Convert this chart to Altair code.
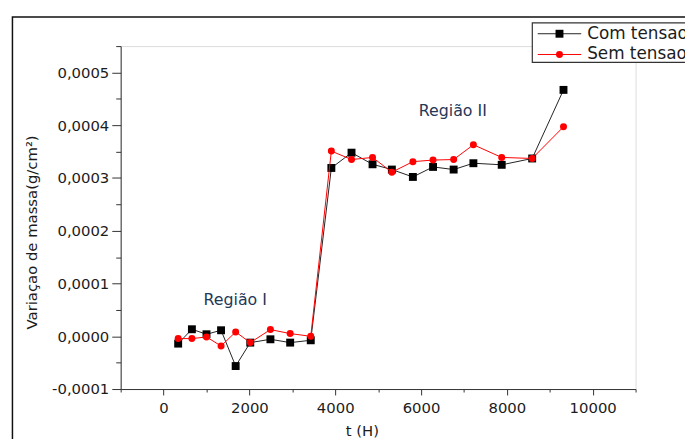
import altair as alt
import pandas as pd

# ---- data ----
t_hours = [340, 660, 1000, 1340, 1680, 2020, 2490, 2950, 3430,
           3910, 4380, 4870, 5320, 5810, 6280, 6760, 7220, 7880, 8590, 9320]
com_tensao = [-0.0000139, 0.0000133, 0.0000038, 0.0000114, -0.0000564, -0.0000120,
              -0.0000057, -0.0000120, -0.0000076,
              0.000319, 0.000348, 0.000326, 0.000316, 0.000302, 0.000321,
              0.000316, 0.000328, 0.000325, 0.000337, 0.000467]
sem_tensao = [-0.0000044, -0.0000044, -0.0000013, -0.0000184, 0.0000082, -0.0000120,
              0.0000127, 0.0000051, 0.0000000,
              0.000351, 0.000335, 0.000339, 0.000311, 0.000331, 0.000334,
              0.000335, 0.000363, 0.000339, 0.000337, 0.000397]
series_names = ["Com tensao", "Sem tensao"]
region_labels = ["Região I", "Região II"]
region_t = [1670, 6740]
region_v = [0.000068, 0.000426]

x_major = [0, 2000, 4000, 6000, 8000, 10000]
x_minor = [-1000, 1000, 3000, 5000, 7000, 9000, 11000]
y_major = [-0.0001, 0.0, 0.0001, 0.0002, 0.0003, 0.0004, 0.0005]
y_minor = [-0.00005, 0.00005, 0.00015, 0.00025, 0.00035, 0.00045, 0.00055]

FONT = "DejaVu Sans"
TXT = "#1c1c1c"
SQ = 64
CI = 50

df_com = pd.DataFrame({"t": t_hours, "v": com_tensao})
df_sem = pd.DataFrame({"t": t_hours, "v": sem_tensao})
df_reg = pd.DataFrame({"t": region_t, "v": region_v, "label": region_labels})
one = pd.DataFrame({"k": [0]})

xs = alt.Scale(domain=[-1000, 11000], nice=False, zero=False)
ys = alt.Scale(domain=[-0.0001, 0.00055], nice=False, zero=False)

ylab = "(datum.value < 0 ? '-' : '') + replace(format(abs(datum.value), '.4f'), '.', ',')"

x_axis_major = alt.Axis(values=x_major, format="d", orient="bottom", grid=False,
                        tickSize=6, tickColor="#333", domainColor="#333",
                        labelFont=FONT, labelFontSize=15, labelColor=TXT, labelPadding=6,
                        title="t (H)", titleFont=FONT, titleFontSize=15, titleColor=TXT,
                        titleFontWeight="normal", titleX=244, titleY=42,
                        titleBaseline="middle", titleAlign="center")
y_axis_major = alt.Axis(values=y_major, labelExpr=ylab, orient="left", grid=False,
                        tickSize=9, tickColor="#333", domainColor="#333",
                        labelFont=FONT, labelFontSize=15, labelColor=TXT, labelPadding=3,
                        title="Variaçao de massa(g/cm²)", titleFont=FONT, titleFontSize=15,
                        titleColor=TXT, titleFontWeight="normal", titleX=-90, titleY=188,
                        titleAngle=270, titleBaseline="middle", titleAlign="center")
x_axis_minor = alt.Axis(values=x_minor, orient="bottom", grid=False, labels=False,
                        domain=False, tickSize=3, tickColor="#333", title=None)
y_axis_minor = alt.Axis(values=y_minor, orient="left", grid=False, labels=False,
                        domain=False, tickSize=5, tickColor="#333", title=None)

# figure frame
frame = alt.Chart(one).mark_rect(fillOpacity=0, stroke="#111", strokeWidth=1.5).encode(
    x=alt.value(-109.5), x2=alt.value(900), y=alt.value(-29.5), y2=alt.value(600))

com_line = alt.Chart(df_com).mark_line(color="#222", strokeWidth=1).encode(
    x=alt.X("t:Q", scale=xs, axis=x_axis_major),
    y=alt.Y("v:Q", scale=ys, axis=y_axis_major))
com_pts = alt.Chart(df_com).mark_point(shape="square", filled=True, color="black",
                                       opacity=1, size=SQ).encode(
    x=alt.X("t:Q", scale=xs, axis=x_axis_minor),
    y=alt.Y("v:Q", scale=ys, axis=y_axis_minor))
sem_line = alt.Chart(df_sem).mark_line(color="#ff0000", strokeWidth=1).encode(
    x=alt.X("t:Q", scale=xs, axis=None),
    y=alt.Y("v:Q", scale=ys, axis=None))
sem_pts = alt.Chart(df_sem).mark_point(shape="circle", filled=True, color="#ff0000",
                                       opacity=1, size=CI).encode(
    x=alt.X("t:Q", scale=xs, axis=None),
    y=alt.Y("v:Q", scale=ys, axis=None))

regions = alt.Chart(df_reg).mark_text(font=FONT, fontSize=16, color="#253858").encode(
    x=alt.X("t:Q", scale=xs, axis=None),
    y=alt.Y("v:Q", scale=ys, axis=None),
    text="label:N")

# legend (drawn with marks)
leg_df = pd.DataFrame({"name": series_names})
leg_box = alt.Chart(one).mark_rect(fill="white", stroke="#333", strokeWidth=1.2).encode(
    x=alt.value(416.5), x2=alt.value(700), y=alt.value(-23.5), y2=alt.value(16.5))
leg_layers = [leg_box]
leg_specs = [("#222", "square", SQ, -12.5), ("#ff0000", "circle", CI, 8.5)]
for i, (col, shp, sz, yy) in enumerate(leg_specs):
    d = leg_df.iloc[[i]]
    leg_layers.append(alt.Chart(d).mark_rule(color=col, strokeWidth=1).encode(
        x=alt.value(422), x2=alt.value(466), y=alt.value(yy)))
    leg_layers.append(alt.Chart(d).mark_point(shape=shp, filled=True, opacity=1,
                                              color=("black" if i == 0 else col), size=sz).encode(
        x=alt.value(444), y=alt.value(yy)))
    leg_layers.append(alt.Chart(d).mark_text(align="left", baseline="middle", font=FONT,
                                             fontSize=17, color=TXT).encode(
        x=alt.value(472), y=alt.value(yy), text="name:N"))

chart = alt.layer(frame, com_line, com_pts, sem_line, sem_pts, regions, *leg_layers).resolve_axis(
    x="independent", y="independent"
).properties(
    width=521, height=347,
    autosize=alt.AutoSizeParams(type="none"),
    padding={"left": 114, "top": 36, "right": 50, "bottom": 48},
).configure_view(stroke=None).configure(background="white")

chart.save("out.html", embed_options={"renderer": "svg", "actions": False})
